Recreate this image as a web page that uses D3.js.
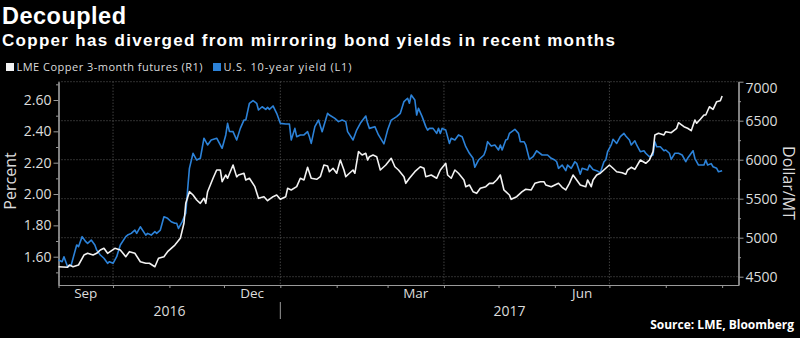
<!DOCTYPE html>
<html><head><meta charset="utf-8">
<script src="https://cdn.jsdelivr.net/npm/d3@7"></script>
<style>html,body{margin:0;padding:0;background:#000;overflow:hidden}</style>
</head><body>
<svg id="chart" width="800" height="338"></svg>
<script>
const title = "Decoupled";
const subtitle = "Copper has diverged from mirroring bond yields in recent months";
const sourceText = "Source: LME, Bloomberg";
const seriesNames = ["LME Copper 3-month futures (R1)", "U.S. 10-year yield (L1)"];
const leftAxisTitle = "Percent";
const rightAxisTitle = "Dollar/MT";
const leftTicks = [1.60, 1.80, 2.00, 2.20, 2.40, 2.60];
const leftMinorTicks = [1.50, 1.70, 1.90, 2.10, 2.30, 2.50, 2.70];
const rightTicks = [4500, 5000, 5500, 6000, 6500, 7000];
const rightMinorTicks = [4750, 5250, 5750, 6250, 6750];
const leftDomain = [1.4194, 2.7168];
const rightDomain = [4393.6, 7000];
const xDomain = ["2016-09-01", "2017-09-10"];
const monthLabels = [["2016-09-01","Sep"],["2016-12-01","Dec"],["2017-03-01","Mar"],["2017-06-01","Jun"]];
const yearLabels = [["2016-09-01","2017-01-01","2016"],["2017-01-01","2017-09-10","2017"]];
const gridMonths = ["2016-10-01","2017-01-01","2017-04-01","2017-07-01"];

// U.S. 10-year yield, percent (left axis)
const yieldData = [
["2016-09-01",1.579],["2016-09-03",1.568],["2016-09-04",1.60],["2016-09-06",1.536],["2016-09-08",1.547],
["2016-09-11",1.675],["2016-09-12",1.664],["2016-09-14",1.728],["2016-09-16",1.696],["2016-09-17",1.685],
["2016-09-19",1.706],["2016-09-21",1.675],["2016-09-22",1.643],["2016-09-24",1.611],["2016-09-26",1.59],
["2016-09-28",1.558],["2016-09-29",1.568],["2016-10-01",1.558],["2016-10-03",1.60],["2016-10-05",1.675],
["2016-10-08",1.728],["2016-10-09",1.738],["2016-10-11",1.749],["2016-10-13",1.77],["2016-10-14",1.749],
["2016-10-16",1.791],["2016-10-19",1.738],["2016-10-20",1.749],["2016-10-22",1.738],["2016-10-24",1.76],
["2016-10-25",1.749],["2016-10-27",1.77],["2016-10-29",1.855],["2016-10-31",1.845],["2016-11-02",1.823],
["2016-11-04",1.813],["2016-11-05",1.813],["2016-11-06",1.78],["2016-11-08",1.823],["2016-11-10",1.877],
["2016-11-11",2.026],["2016-11-12",2.164],["2016-11-14",2.26],["2016-11-16",2.217],["2016-11-18",2.228],
["2016-11-20",2.356],["2016-11-22",2.313],["2016-11-24",2.345],["2016-11-27",2.356],["2016-11-30",2.292],
["2016-12-02",2.377],["2016-12-03",2.451],["2016-12-04",2.40],["2016-12-06",2.398],["2016-12-08",2.345],
["2016-12-10",2.419],["2016-12-12",2.472],["2016-12-13",2.472],["2016-12-15",2.579],["2016-12-17",2.596],
["2016-12-19",2.579],["2016-12-20",2.536],["2016-12-22",2.557],["2016-12-24",2.540],["2016-12-25",2.553],
["2016-12-26",2.540],["2016-12-28",2.562],["2016-12-30",2.515],["2017-01-01",2.451],["2017-01-04",2.447],
["2017-01-06",2.447],["2017-01-07",2.345],["2017-01-09",2.419],["2017-01-10",2.366],["2017-01-12",2.377],
["2017-01-14",2.377],["2017-01-16",2.398],["2017-01-17",2.366],["2017-01-18",2.323],["2017-01-20",2.43],
["2017-01-22",2.472],["2017-01-24",2.398],["2017-01-27",2.515],["2017-01-28",2.504],["2017-01-31",2.483],
["2017-02-02",2.462],["2017-02-04",2.472],["2017-02-06",2.462],["2017-02-07",2.398],["2017-02-10",2.345],
["2017-02-12",2.408],["2017-02-14",2.451],["2017-02-17",2.498],["2017-02-18",2.451],["2017-02-19",2.419],
["2017-02-22",2.43],["2017-02-24",2.377],["2017-02-27",2.32],["2017-03-01",2.408],["2017-03-03",2.472],
["2017-03-06",2.494],["2017-03-08",2.515],["2017-03-10",2.59],["2017-03-12",2.611],["2017-03-13",2.579],
["2017-03-14",2.632],["2017-03-16",2.600],["2017-03-17",2.504],["2017-03-18",2.547],["2017-03-20",2.494],
["2017-03-22",2.43],["2017-03-23",2.408],["2017-03-24",2.419],["2017-03-26",2.419],["2017-03-28",2.387],
["2017-03-29",2.419],["2017-03-30",2.387],["2017-03-31",2.419],["2017-04-02",2.408],["2017-04-04",2.323],
["2017-04-05",2.356],["2017-04-07",2.345],["2017-04-09",2.377],["2017-04-11",2.366],["2017-04-13",2.302],
["2017-04-15",2.26],["2017-04-17",2.228],["2017-04-18",2.171],["2017-04-20",2.217],["2017-04-23",2.249],
["2017-04-24",2.281],["2017-04-25",2.334],["2017-04-27",2.306],["2017-04-29",2.313],["2017-05-01",2.281],
["2017-05-02",2.313],["2017-05-03",2.281],["2017-05-05",2.345],["2017-05-06",2.349],["2017-05-07",2.387],
["2017-05-10",2.413],["2017-05-12",2.387],["2017-05-13",2.334],["2017-05-15",2.334],["2017-05-16",2.313],
["2017-05-18",2.221],["2017-05-20",2.238],["2017-05-22",2.276],["2017-05-25",2.249],["2017-05-28",2.249],
["2017-05-30",2.228],["2017-06-01",2.217],["2017-06-02",2.206],["2017-06-03",2.164],["2017-06-05",2.185],
["2017-06-07",2.149],["2017-06-08",2.185],["2017-06-10",2.164],["2017-06-12",2.206],["2017-06-13",2.196],
["2017-06-15",2.127],["2017-06-16",2.164],["2017-06-19",2.153],["2017-06-20",2.185],["2017-06-22",2.157],
["2017-06-24",2.149],["2017-06-26",2.136],["2017-06-28",2.206],["2017-06-29",2.217],["2017-06-30",2.27],
["2017-07-02",2.313],["2017-07-03",2.349],["2017-07-05",2.323],["2017-07-07",2.366],["2017-07-09",2.387],
["2017-07-10",2.370],["2017-07-12",2.345],["2017-07-13",2.313],["2017-07-15",2.340],["2017-07-16",2.313],
["2017-07-18",2.27],["2017-07-20",2.276],["2017-07-21",2.26],["2017-07-23",2.238],["2017-07-25",2.249],
["2017-07-26",2.334],["2017-07-27",2.302],["2017-07-29",2.302],["2017-07-31",2.276],["2017-08-01",2.281],
["2017-08-03",2.26],["2017-08-04",2.221],["2017-08-06",2.26],["2017-08-08",2.26],["2017-08-10",2.249],
["2017-08-12",2.206],["2017-08-13",2.228],["2017-08-16",2.276],["2017-08-17",2.228],["2017-08-19",2.185],
["2017-08-22",2.185],["2017-08-23",2.217],["2017-08-24",2.185],["2017-08-26",2.194],["2017-08-27",2.174],
["2017-08-29",2.164],["2017-08-30",2.142],["2017-09-01",2.149]
];

// LME copper 3-month futures, dollar/MT (right axis)
const copperData = [
["2016-09-01",4628],["2016-09-06",4621],["2016-09-07",4650],["2016-09-09",4628],["2016-09-12",4650],
["2016-09-15",4778],["2016-09-17",4800],["2016-09-20",4778],["2016-09-22",4800],["2016-09-24",4842],
["2016-09-26",4864],["2016-09-28",4800],["2016-10-02",4864],["2016-10-05",4842],["2016-10-08",4757],
["2016-10-10",4821],["2016-10-13",4800],["2016-10-16",4692],["2016-10-19",4672],["2016-10-21",4672],
["2016-10-24",4628],["2016-10-26",4736],["2016-10-29",4757],["2016-10-31",4821],["2016-11-02",4864],
["2016-11-04",4906],["2016-11-07",4992],["2016-11-09",5185],["2016-11-10",5441],["2016-11-12",5590],
["2016-11-14",5547],["2016-11-16",5483],["2016-11-18",5441],["2016-11-20",5505],["2016-11-21",5441],
["2016-11-22",5590],["2016-11-25",5762],["2016-11-27",5868],["2016-11-29",5868],["2016-11-30",5718],
["2016-12-02",5804],["2016-12-03",5762],["2016-12-06",5932],["2016-12-08",5780],["2016-12-09",5804],
["2016-12-12",5826],["2016-12-13",5740],["2016-12-15",5762],["2016-12-18",5654],["2016-12-20",5505],
["2016-12-23",5526],["2016-12-25",5474],["2016-12-28",5526],["2016-12-30",5547],["2017-01-01",5492],
["2017-01-04",5526],["2017-01-05",5633],["2017-01-07",5612],["2017-01-10",5654],["2017-01-12",5762],
["2017-01-14",5740],["2017-01-16",5903],["2017-01-18",5762],["2017-01-21",5749],["2017-01-23",5782],
["2017-01-25",5932],["2017-01-27",5919],["2017-01-28",5846],["2017-01-30",5890],["2017-02-01",5826],
["2017-02-03",5996],["2017-02-05",5868],["2017-02-06",5782],["2017-02-08",5826],["2017-02-10",5868],
["2017-02-11",5826],["2017-02-13",6103],["2017-02-15",6060],["2017-02-17",6082],["2017-02-18",5996],
["2017-02-19",6039],["2017-02-21",6060],["2017-02-23",6039],["2017-02-25",5868],["2017-02-28",5932],
["2017-03-03",6018],["2017-03-05",5910],["2017-03-07",5868],["2017-03-10",5782],["2017-03-11",5697],
["2017-03-13",5762],["2017-03-16",5846],["2017-03-19",5910],["2017-03-21",5890],["2017-03-22",5782],
["2017-03-25",5804],["2017-03-28",5762],["2017-03-30",5868],["2017-04-02",5954],["2017-04-03",5804],
["2017-04-05",5762],["2017-04-07",5868],["2017-04-09",5826],["2017-04-12",5740],["2017-04-13",5654],
["2017-04-15",5676],["2017-04-17",5590],["2017-04-19",5569],["2017-04-21",5633],["2017-04-24",5654],
["2017-04-26",5697],["2017-04-28",5697],["2017-04-30",5740],["2017-05-02",5804],["2017-05-04",5612],
["2017-05-05",5590],["2017-05-07",5547],["2017-05-08",5492],["2017-05-11",5526],["2017-05-14",5590],
["2017-05-16",5621],["2017-05-19",5612],["2017-05-21",5697],["2017-05-24",5718],["2017-05-26",5718],
["2017-05-27",5676],["2017-05-30",5654],["2017-06-01",5676],["2017-06-03",5697],["2017-06-05",5646],
["2017-06-07",5612],["2017-06-09",5697],["2017-06-11",5804],["2017-06-13",5740],["2017-06-15",5676],
["2017-06-18",5654],["2017-06-19",5740],["2017-06-21",5654],["2017-06-22",5740],["2017-06-24",5804],
["2017-06-26",5826],["2017-06-29",5890],["2017-07-01",5932],["2017-07-03",5890],["2017-07-05",5846],
["2017-07-08",5833],["2017-07-10",5813],["2017-07-11",5868],["2017-07-13",5903],["2017-07-15",5877],
["2017-07-18",5996],["2017-07-21",5954],["2017-07-23",5996],["2017-07-25",6103],["2017-07-26",6317],
["2017-07-28",6338],["2017-07-31",6317],["2017-08-01",6359],["2017-08-04",6346],["2017-08-07",6403],
["2017-08-08",6474],["2017-08-11",6423],["2017-08-13",6403],["2017-08-15",6372],["2017-08-17",6509],
["2017-08-18",6467],["2017-08-20",6518],["2017-08-22",6573],["2017-08-23",6573],["2017-08-25",6679],
["2017-08-27",6646],["2017-08-29",6744],["2017-08-31",6756],["2017-09-01",6817]
];

const COL = {bg:"#000000", copper:"#f2f2f2", yield:"#2c82d8", text:"#dcdcdc", axis:"#9a9a9a", grid:"#5e5e5e"};
const FONT = "'Open Sans', 'Liberation Sans', sans-serif";
const HEAD_FONT = "'Liberation Sans', Arial, sans-serif";
const W = 800, H = 338;
const M = {left:58.5, right:738.5, top:81.7, bottom:285};

const svg = d3.select("#chart");
svg.append("rect").attr("width", W).attr("height", H).attr("fill", COL.bg);
const parse = d3.utcParse("%Y-%m-%d");

const x = d3.scaleUtc().domain(xDomain.map(parse)).range([M.left, M.right]);
const yL = d3.scaleLinear().domain(leftDomain).range([M.bottom, M.top]);
const yR = d3.scaleLinear().domain(rightDomain).range([M.bottom, M.top]);

// Titles
svg.append("text").attr("x", 2).attr("y", 24).text(title)
  .attr("font-family", HEAD_FONT).attr("font-weight", 700).attr("font-size", 23.5).attr("fill", "#ffffff")
  .attr("textLength", 124).attr("lengthAdjust", "spacing");
svg.append("text").attr("x", 2).attr("y", 45.9).text(subtitle)
  .attr("font-family", HEAD_FONT).attr("font-weight", 700).attr("font-size", 17).attr("fill", "#ffffff")
  .attr("textLength", 613).attr("lengthAdjust", "spacing");

// Legend
const legendItems = [
  {name: seriesNames[0], color: COL.copper, x: 6, w: 186},
  {name: seriesNames[1], color: COL.yield, x: 213, w: 128}
];
const lg = svg.append("g").attr("class", "legend");
legendItems.forEach(it => {
  lg.append("rect").attr("x", it.x).attr("y", 63).attr("width", 8).attr("height", 8).attr("fill", it.color);
  lg.append("text").attr("x", it.x + 10.5).attr("y", 71.3).text(it.name)
    .attr("font-family", FONT).attr("font-size", 11).attr("fill", COL.text)
    .attr("textLength", it.w).attr("lengthAdjust", "spacing");
});

// Gridlines
const grid = svg.append("g").attr("class", "grid");
grid.selectAll("line.h").data(rightTicks).join("line").attr("class", "h")
  .attr("x1", M.left).attr("x2", M.right).attr("y1", d => yR(d)).attr("y2", d => yR(d))
  .attr("stroke", COL.grid).attr("stroke-width", 1).attr("stroke-dasharray", "1,2");
grid.selectAll("line.v").data(gridMonths.map(parse)).join("line").attr("class", "v")
  .attr("x1", d => x(d)).attr("x2", d => x(d)).attr("y1", M.top).attr("y2", M.bottom)
  .attr("stroke", COL.grid).attr("stroke-width", 1).attr("stroke-dasharray", "1,2");

function styleAxis(g) {
  g.select(".domain").attr("stroke", COL.axis).attr("stroke-width", 1.2);
  g.selectAll(".tick line").attr("stroke", COL.axis);
  g.selectAll(".tick text").attr("fill", COL.text).attr("font-family", FONT);
}

// Left axis
const gl = svg.append("g").attr("transform", `translate(${M.left},0)`)
  .call(d3.axisLeft(yL).tickValues(leftTicks).tickSize(5).tickSizeOuter(0).tickPadding(2)
    .tickFormat(d3.format(".2f")));
styleAxis(gl); gl.selectAll(".tick text").attr("font-size", 14);
const glm = svg.append("g").attr("transform", `translate(${M.left},0)`)
  .call(d3.axisLeft(yL).tickValues(leftMinorTicks).tickSize(2.5).tickSizeOuter(0).tickFormat(""));
styleAxis(glm);

// Right axis
const gr = svg.append("g").attr("transform", `translate(${M.right},0)`)
  .call(d3.axisRight(yR).tickValues(rightTicks).tickSize(5).tickSizeOuter(0).tickPadding(2)
    .tickFormat(d3.format("d")));
styleAxis(gr); gr.selectAll(".tick text").attr("font-size", 14);
gr.selectAll(".tick text").filter(d => yR(d) - 7 < M.top).attr("dy", "0.8em");
const grm = svg.append("g").attr("transform", `translate(${M.right},0)`)
  .call(d3.axisRight(yR).tickValues(rightMinorTicks).tickSize(2.5).tickSizeOuter(0).tickFormat(""));
styleAxis(grm);

// Bottom axis
const gb = svg.append("g").attr("transform", `translate(0,${M.bottom})`)
  .call(d3.axisBottom(x).ticks(d3.utcMonth.every(1)).tickSize(3).tickSizeOuter(0).tickFormat(""));
styleAxis(gb);

svg.append("g").selectAll("text").data(monthLabels).join("text")
  .attr("x", d => { const s = parse(d[0]); return (x(s) + x(d3.utcMonth.offset(s, 1))) / 2; })
  .attr("y", 297.5).attr("text-anchor", "middle").text(d => d[1])
  .attr("font-family", FONT).attr("font-size", 13.5).attr("fill", COL.text);
svg.append("g").selectAll("text").data(yearLabels).join("text")
  .attr("x", d => (x(parse(d[0])) + x(parse(d[1]))) / 2)
  .attr("y", 316).attr("text-anchor", "middle").text(d => d[2])
  .attr("font-family", FONT).attr("font-size", 14).attr("fill", COL.text);
svg.append("line").attr("x1", x(parse("2017-01-01"))).attr("x2", x(parse("2017-01-01")))
  .attr("y1", 302).attr("y2", 319).attr("stroke", COL.axis).attr("stroke-width", 1);

// Axis titles
svg.append("text").attr("transform", `translate(15.5,181) rotate(-90)`).attr("text-anchor", "middle")
  .text(leftAxisTitle).attr("font-family", FONT).attr("font-size", 16).attr("fill", COL.text);
svg.append("text").attr("transform", `translate(782.5,183) rotate(90)`).attr("text-anchor", "middle")
  .text(rightAxisTitle).attr("font-family", FONT).attr("font-size", 16).attr("fill", COL.text);

// Lines
const lineL = d3.line().x(d => x(parse(d[0]))).y(d => yL(d[1]));
const lineR = d3.line().x(d => x(parse(d[0]))).y(d => yR(d[1]));
svg.append("path").datum(yieldData).attr("d", lineL).attr("fill", "none")
  .attr("stroke", COL.yield).attr("stroke-width", 1.6).attr("stroke-linejoin", "round");
svg.append("path").datum(copperData).attr("d", lineR).attr("fill", "none")
  .attr("stroke", COL.copper).attr("stroke-width", 1.6).attr("stroke-linejoin", "round");

// Source
svg.append("text").attr("x", 794).attr("y", 328.5).attr("text-anchor", "end").text(sourceText)
  .attr("font-family", FONT).attr("font-weight", 700).attr("font-size", 12).attr("fill", "#ffffff");
</script>
</body></html>
